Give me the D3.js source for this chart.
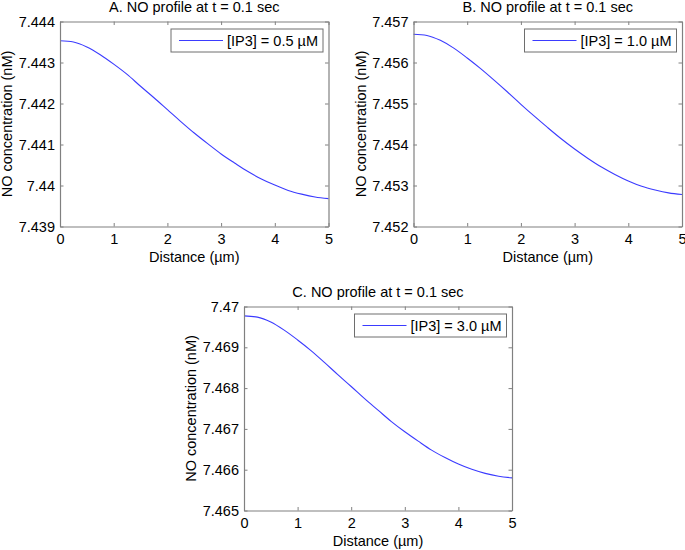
<!DOCTYPE html>
<html>
<head>
<meta charset="utf-8">
<script src="https://cdn.jsdelivr.net/npm/d3@7"></script>
<style>
  html, body { margin: 0; padding: 0; background: #fff; }
  svg { display: block; font-family: "Liberation Sans", Arial, sans-serif; }
</style>
</head>
<body>
<svg id="chart" width="685" height="550"></svg>
<script>
// ---- data ----
const distance = [0, 0.25, 0.5, 0.75, 1, 1.25, 1.5, 1.75, 2, 2.25, 2.5, 2.75, 3, 3.25, 3.5, 3.75, 4, 4.25, 4.5, 4.75, 5];
const concA = [7.44353, 7.44350, 7.44338, 7.44319, 7.44296, 7.44271, 7.44242, 7.44214, 7.44185, 7.44156, 7.44128, 7.44102, 7.44077, 7.44055, 7.44034, 7.44016, 7.44001, 7.43988, 7.43979, 7.43972, 7.43968];
const concB = [7.45669, 7.45666, 7.45654, 7.45635, 7.45611, 7.45585, 7.45557, 7.45528, 7.45498, 7.45469, 7.45441, 7.45414, 7.45389, 7.45366, 7.45345, 7.45327, 7.45311, 7.45298, 7.45289, 7.45282, 7.45278];
const concC = [7.46977, 7.46974, 7.46962, 7.46942, 7.46918, 7.46892, 7.46863, 7.46833, 7.46804, 7.46774, 7.46746, 7.46718, 7.46693, 7.46670, 7.46648, 7.46630, 7.46614, 7.46601, 7.46591, 7.46584, 7.46580];
const titles = ["A. NO profile at t = 0.1 sec", "B. NO profile at t = 0.1 sec", "C. NO profile at t = 0.1 sec"];
const legendLabels = ["[IP3] = 0.5 \u00B5M", "[IP3] = 1.0 \u00B5M", "[IP3] = 3.0 \u00B5M"];
const xTicks = [0, 1, 2, 3, 4, 5];
const yTicksA = [7.439, 7.440, 7.441, 7.442, 7.443, 7.444];
const yTicksB = [7.452, 7.453, 7.454, 7.455, 7.456, 7.457];
const yTicksC = [7.465, 7.466, 7.467, 7.468, 7.469, 7.470];
const xLabel = "Distance (\u00B5m)";
const yLabel = "NO concentration (nM)";

// ---- layout ----
const panels = [
  { title: titles[0], legend: legendLabels[0], values: concA, yTicks: yTicksA, left: 60, right: 328.5, top: 21.5, bottom: 226.5 },
  { title: titles[1], legend: legendLabels[1], values: concB, yTicks: yTicksB, left: 413.5, right: 682, top: 21.5, bottom: 226.5 },
  { title: titles[2], legend: legendLabels[2], values: concC, yTicks: yTicksC, left: 244, right: 512, top: 306.5, bottom: 510.5 }
];

const svg = d3.select("#chart");
const axisColor = "#808080";
const fmt = d3.format(".3~f");
const fs = 14.5;

panels.forEach(p => {
  const x = d3.scaleLinear().domain([0, 5]).range([p.left, p.right]);
  const y = d3.scaleLinear().domain([p.yTicks[0], p.yTicks[p.yTicks.length - 1]]).range([p.bottom, p.top]);
  const g = svg.append("g");

  // curve
  const line = d3.line().x((d, i) => x(distance[i])).y(d => y(d)).curve(d3.curveMonotoneX);
  g.append("path").datum(p.values)
    .attr("d", line).attr("fill", "none")
    .attr("stroke", "#3b3bff").attr("stroke-width", 1.1);

  // axes box with inward ticks on all sides
  const tl = 3.5;
  const bottomAxis = d3.axisBottom(x).tickValues(xTicks).tickSizeInner(-tl).tickSizeOuter(0).tickFormat(d3.format("d"));
  const topAxis = d3.axisTop(x).tickValues(xTicks).tickSizeInner(-tl).tickSizeOuter(0).tickFormat("");
  const leftAxis = d3.axisLeft(y).tickValues(p.yTicks).tickSizeInner(-tl).tickSizeOuter(0).tickFormat(fmt);
  const rightAxis = d3.axisRight(y).tickValues(p.yTicks).tickSizeInner(-tl).tickSizeOuter(0).tickFormat("");

  const styleAxis = sel => {
    sel.select(".domain").attr("stroke", axisColor).attr("stroke-width", 1.2);
    sel.selectAll(".tick line").attr("stroke", axisColor).attr("stroke-width", 1);
    sel.selectAll(".tick text").attr("fill", "#000").style("font-size", fs + "px")
      .style("font-family", "'Liberation Sans', Arial, sans-serif");
  };

  g.append("g").attr("transform", `translate(0,${p.bottom})`).call(bottomAxis).call(styleAxis)
    .selectAll(".tick text").attr("y", 7).attr("dy", "0.71em");
  g.append("g").attr("transform", `translate(0,${p.top})`).call(topAxis).call(styleAxis);
  g.append("g").attr("transform", `translate(${p.left},0)`).call(leftAxis).call(styleAxis)
    .selectAll(".tick text").attr("x", -5);
  g.append("g").attr("transform", `translate(${p.right},0)`).call(rightAxis).call(styleAxis);

  // title
  g.append("text").attr("x", (p.left + p.right) / 2).attr("y", p.top - 10)
    .attr("text-anchor", "middle").style("font-size", fs + "px").attr("fill", "#000").text(p.title);

  // x label
  g.append("text").attr("x", (p.left + p.right) / 2).attr("y", p.bottom + 35)
    .attr("text-anchor", "middle").style("font-size", fs + "px").attr("fill", "#000").text(xLabel);

  // y label
  const cy = (p.top + p.bottom) / 2;
  g.append("text").attr("transform", `translate(${p.left - 48},${cy}) rotate(-90)`)
    .attr("text-anchor", "middle").style("font-size", fs + "px").attr("fill", "#000").text(yLabel);

  // legend
  const lw = 152, lh = 23;
  const lx = p.right - 5.5 - lw, ly = p.top + 7.5;
  g.append("rect").attr("x", lx).attr("y", ly).attr("width", lw).attr("height", lh)
    .attr("fill", "#fff").attr("stroke", "#6e6e6e").attr("stroke-width", 1);
  g.append("line").attr("x1", lx + 8).attr("x2", lx + 52).attr("y1", ly + lh / 2).attr("y2", ly + lh / 2)
    .attr("stroke", "#3b3bff").attr("stroke-width", 1.1);
  g.append("text").attr("x", lx + 56).attr("y", ly + lh / 2 + 5)
    .style("font-size", fs + "px").attr("fill", "#000").text(p.legend);
});
</script>
</body>
</html>
